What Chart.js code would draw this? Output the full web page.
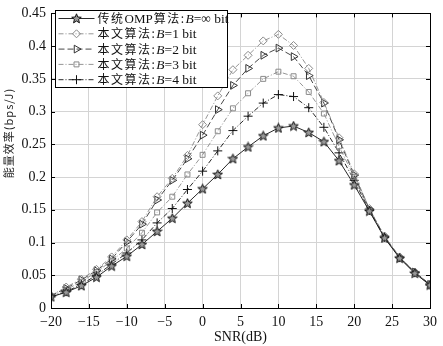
<!DOCTYPE html>
<html>
<head>
<meta charset="utf-8">
<script src="https://cdn.jsdelivr.net/npm/chart.js@4"></script>
<style>
  html, body { margin: 0; padding: 0; background: #fff; }
  #wrap { width: 443px; height: 346px; }
</style>
</head>
<body>
<div id="wrap"><canvas id="myChart" width="443" height="346"></canvas></div>
<script>
// SNR points (dB)
var snr = [-20, -18, -16, -14, -12, -10, -8, -6, -4, -2, 0, 2, 4, 6, 8, 10, 12, 14, 16, 18, 20, 22, 24, 26, 28, 30];

// energy efficiency
var ompInf = [0.017, 0.024, 0.034, 0.047, 0.064, 0.079, 0.097, 0.117, 0.137, 0.160, 0.182, 0.204, 0.228, 0.246, 0.263, 0.275, 0.278, 0.268, 0.254, 0.225, 0.188, 0.148, 0.107, 0.076, 0.053, 0.035];
var bit1 = [0.019, 0.032, 0.044, 0.059, 0.078, 0.104, 0.132, 0.170, 0.198, 0.233, 0.280, 0.324, 0.364, 0.386, 0.408, 0.418, 0.401, 0.366, 0.314, 0.260, 0.205, 0.152, 0.110, 0.078, 0.055, 0.036];
var bit2 = [0.019, 0.030, 0.043, 0.057, 0.075, 0.101, 0.128, 0.165, 0.195, 0.228, 0.264, 0.303, 0.340, 0.366, 0.386, 0.397, 0.384, 0.355, 0.313, 0.257, 0.203, 0.151, 0.109, 0.077, 0.055, 0.036];
var bit3 = [0.018, 0.028, 0.040, 0.055, 0.072, 0.091, 0.115, 0.146, 0.170, 0.204, 0.234, 0.270, 0.305, 0.328, 0.350, 0.361, 0.354, 0.330, 0.297, 0.247, 0.200, 0.150, 0.109, 0.077, 0.054, 0.036];
var bit4 = [0.017, 0.025, 0.036, 0.050, 0.067, 0.084, 0.104, 0.130, 0.152, 0.181, 0.209, 0.240, 0.271, 0.293, 0.313, 0.326, 0.323, 0.306, 0.276, 0.237, 0.195, 0.149, 0.108, 0.077, 0.054, 0.035];

var legendPre = ['传统', '本文算法:', '本文算法:', '本文算法:', '本文算法:'];
var legendMid = ['OMP', '', '', '', ''];
var legendCjk2 = ['算法:', '', '', '', ''];
var legendPost = ['=∞ bit', '=1 bit', '=2 bit', '=3 bit', '=4 bit'];
var yTitle = '能量效率(bps/J)';

var xTicks = [-20, -15, -10, -5, 0, 5, 10, 15, 20, 25, 30];
var yTicks = [0, 0.05, 0.1, 0.15, 0.2, 0.25, 0.3, 0.35, 0.4, 0.45];

var serif = '"Liberation Serif", "Times New Roman", serif';
var cjk = '"Noto Sans CJK SC", "Liberation Serif", serif';

function pts(ys) {
  return snr.map(function (x, i) { return { x: x, y: ys[i] }; });
}

// five pointed star marker
function makeStar() {
  var c = document.createElement('canvas');
  c.width = 11; c.height = 11;
  var g = c.getContext('2d');
  g.beginPath();
  for (var i = 0; i < 10; i++) {
    var r = (i % 2 === 0) ? 5 : 2.2;
    var a = -Math.PI / 2 + i * Math.PI / 5;
    var px = 5.5 + r * Math.cos(a), py = 5.8 + r * Math.sin(a);
    if (i === 0) g.moveTo(px, py); else g.lineTo(px, py);
  }
  g.closePath();
  g.fillStyle = '#999';
  g.fill();
  g.strokeStyle = '#111';
  g.lineWidth = 1;
  g.stroke();
  return c;
}
var star = makeStar();

var datasets = [
  { data: pts(ompInf), borderColor: '#111', borderDash: [], pointStyle: star, pointRadius: 5, pointRotation: 0 },
  { data: pts(bit1), borderColor: '#8a8a8a', borderDash: [5, 2, 1, 2], pointStyle: 'rectRot', pointRadius: 4, pointRotation: 0 },
  { data: pts(bit2), borderColor: '#333', borderDash: [6, 3], pointStyle: 'triangle', pointRadius: 4.5, pointRotation: 90 },
  { data: pts(bit3), borderColor: '#8a8a8a', borderDash: [5, 2, 1, 2], pointStyle: 'rect', pointRadius: 3.5, pointRotation: 0 },
  { data: pts(bit4), borderColor: '#111', borderDash: [5, 2, 1, 2], pointStyle: 'cross', pointRadius: 4.5, pointRotation: 0 }
];
datasets.forEach(function (d) {
  d.borderWidth = 0.9;
  d.pointBorderColor = d.borderColor;
  d.pointBackgroundColor = 'rgba(0,0,0,0)';
  d.pointBorderWidth = 1;
  d.fill = false;
  d.tension = 0;
});

// axes box, inward ticks, y title and the legend box inside the plot
var matlabBox = {
  id: 'matlabBox',
  afterDraw: function (chart) {
    var ctx = chart.ctx, a = chart.chartArea;
    var xs = chart.scales.x, ys = chart.scales.y;
    ctx.save();
    ctx.strokeStyle = '#000';
    ctx.lineWidth = 1;
    ctx.strokeRect(Math.round(a.left) + 0.5, Math.round(a.top) + 0.5, Math.round(a.right - a.left), Math.round(a.bottom - a.top));
    ctx.beginPath();
    xTicks.forEach(function (t) {
      var px = Math.round(xs.getPixelForValue(t)) + 0.5;
      ctx.moveTo(px, a.bottom); ctx.lineTo(px, a.bottom - 4);
      ctx.moveTo(px, a.top); ctx.lineTo(px, a.top + 4);
    });
    yTicks.forEach(function (t) {
      var py = Math.round(ys.getPixelForValue(t)) + 0.5;
      ctx.moveTo(a.left, py); ctx.lineTo(a.left + 4, py);
      ctx.moveTo(a.right, py); ctx.lineTo(a.right - 4, py);
    });
    ctx.stroke();

    // y title, sits a bit above the middle like the original
    ctx.save();
    ctx.translate(9, 133);
    ctx.rotate(-Math.PI / 2);
    ctx.fillStyle = '#222';
    ctx.font = '11px ' + cjk;
    ctx.letterSpacing = '1px';
    ctx.textAlign = 'center';
    ctx.textBaseline = 'middle';
    ctx.fillText(yTitle, 0, 0);
    ctx.restore();

    // legend
    var bx = 55.5, by = 10.5, bw = 172, bh = 77;
    ctx.fillStyle = '#fff';
    ctx.fillRect(bx, by, bw, bh);
    ctx.strokeRect(bx, by, bw, bh);
    chart.data.datasets.forEach(function (d, i) {
      var y = by + 8 + i * 15.3;
      ctx.save();
      ctx.strokeStyle = d.borderColor;
      ctx.lineWidth = d.borderWidth;
      ctx.setLineDash(d.borderDash);
      ctx.beginPath();
      ctx.moveTo(bx + 3, y); ctx.lineTo(bx + 39, y);
      ctx.stroke();
      ctx.setLineDash([]);
      ctx.fillStyle = d.pointBackgroundColor;
      ctx.strokeStyle = d.pointBorderColor;
      ctx.lineWidth = d.pointBorderWidth;
      Chart.helpers.drawPoint(ctx, { pointStyle: d.pointStyle, rotation: d.pointRotation, radius: d.pointRadius, borderWidth: 1 }, bx + 21, y);
      ctx.restore();

      ctx.fillStyle = '#111';
      ctx.textBaseline = 'middle';
      ctx.textAlign = 'left';
      var tx = bx + 42;
      ctx.font = '12px ' + cjk;
      ctx.letterSpacing = '1.5px';
      ctx.fillText(legendPre[i], tx, y);
      tx += ctx.measureText(legendPre[i]).width;
      if (legendMid[i]) {
        ctx.letterSpacing = '0px';
        ctx.font = '13px ' + serif;
        ctx.fillText(legendMid[i], tx, y + 1);
        tx += ctx.measureText(legendMid[i]).width + 1;
        ctx.font = '12px ' + cjk;
        ctx.letterSpacing = '1.5px';
        ctx.fillText(legendCjk2[i], tx, y);
        tx += ctx.measureText(legendCjk2[i]).width;
      }
      ctx.letterSpacing = '0px';
      ctx.font = 'italic 13.5px ' + serif;
      ctx.fillText('B', tx, y + 1);
      tx += ctx.measureText('B').width;
      ctx.font = '13.5px ' + serif;
      ctx.fillText(legendPost[i], tx, y + 1);
    });
    ctx.restore();
  }
};

var ctx = document.getElementById('myChart').getContext('2d');
var chart = new Chart(ctx, {
  type: 'line',
  data: { datasets: datasets },
  plugins: [matlabBox],
  options: {
    responsive: false,
    animation: false,
    layout: { padding: { left: 0, top: 5, right: 7, bottom: 0 } },
    plugins: { legend: { display: false }, tooltip: { enabled: false } },
    scales: {
      x: {
        type: 'linear',
        min: -20, max: 30,
        afterBuildTicks: function (s) { s.ticks = xTicks.map(function (v) { return { value: v }; }); },
        afterFit: function (s) { s.height = 38; },
        grid: { color: '#d4d4d4', lineWidth: 1, drawTicks: false },
        border: { display: false },
        ticks: {
          color: '#111', padding: 6, maxRotation: 0,
          font: { family: serif, size: 14 },
          callback: function (v) { return String(v).replace('-', '\u2212'); }
        },
        title: { display: true, text: 'SNR(dB)', color: '#111', padding: { top: 0, bottom: 0 }, font: { family: serif, size: 14 } }
      },
      y: {
        min: 0, max: 0.45,
        afterBuildTicks: function (s) { s.ticks = yTicks.map(function (v) { return { value: v }; }); },
        afterFit: function (s) { s.width = 51; },
        grid: { color: '#d4d4d4', lineWidth: 1, drawTicks: false },
        border: { display: false },
        ticks: {
          color: '#111', padding: 5,
          font: { family: serif, size: 14 },
          callback: function (v) { return String(Math.round(v * 100) / 100); }
        }
      }
    }
  }
});
</script>
</body>
</html>
